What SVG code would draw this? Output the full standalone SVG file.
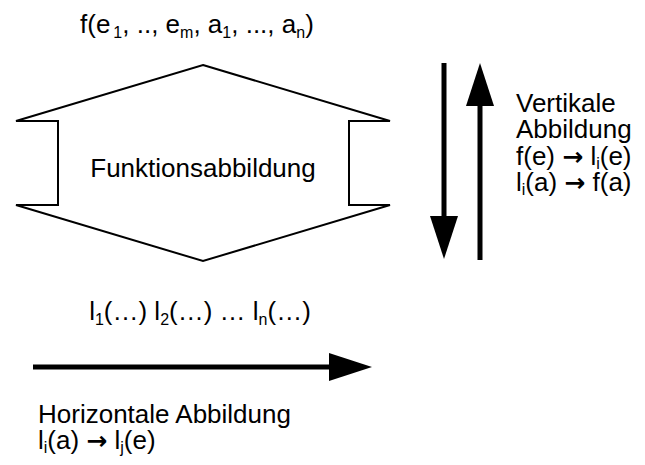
<svg xmlns="http://www.w3.org/2000/svg" width="645" height="465" viewBox="0 0 645 465">
<style>
text{font-family:"Liberation Sans",Arial,sans-serif;font-size:26px;fill:#000}
.sub{font-size:16px}
.ar{font-family:"DejaVu Sans",sans-serif;font-weight:bold;font-size:25px}
.shape{fill:#fff;stroke:#000;stroke-width:2;stroke-linejoin:miter}
.arr{stroke:#000;stroke-width:5;fill:none}
</style>
<defs>
<marker id="head" markerUnits="userSpaceOnUse" markerWidth="44" markerHeight="28" refX="0" refY="14" orient="auto" overflow="visible">
<path d="M0,0 L43,14 L0,28 z" fill="#000"/>
</marker>
</defs>
<rect width="645" height="465" fill="#fff"/>
<g id="top-label">
<text x="80" y="33">f(e<tspan class="sub" dy="5" dx="3">1</tspan><tspan dy="-5">, .., e</tspan><tspan class="sub" dy="5">m</tspan><tspan dy="-5">, a</tspan><tspan class="sub" dy="5">1</tspan><tspan dy="-5">, ..., a</tspan><tspan class="sub" dy="5">n</tspan><tspan dy="-5">)</tspan></text>
</g>
<g id="funktionsabbildung">
<polygon class="shape" points="203,65 390,121 349,121 349,205 390,205 203,261 16,205 58,205 58,121 16,121"/>
<text x="203" y="177" text-anchor="middle">Funktionsabbildung</text>
</g>
<g id="bottom-label">
<text x="200" y="320" text-anchor="middle">l<tspan class="sub" dy="5">1</tspan><tspan dy="-5">(…) l</tspan><tspan class="sub" dy="5">2</tspan><tspan dy="-5">(…) … l</tspan><tspan class="sub" dy="5">n</tspan><tspan dy="-5">(…)</tspan></text>
</g>
<g id="vertical-label">
<text x="516" y="112">Vertikale</text>
<text x="516" y="138">Abbildung</text>
<text x="516" y="165">f(e) <tspan class="ar">→</tspan> l<tspan class="sub" dy="4">i</tspan><tspan dy="-4">(e)</tspan></text>
<text x="516" y="191">l<tspan class="sub" dy="4">i</tspan><tspan dy="-4">(a) </tspan><tspan class="ar">→</tspan> f(a)</text>
</g>
<g id="horizontal-label">
<text x="38" y="423">Horizontale Abbildung</text>
<text x="38" y="449">l<tspan class="sub" dy="4">i</tspan><tspan dy="-4">(a) </tspan><tspan class="ar">→</tspan> l<tspan class="sub" dy="4">j</tspan><tspan dy="-4">(e)</tspan></text>
</g>
<g id="connectors">
<line class="arr" x1="444" y1="63" x2="444" y2="216" marker-end="url(#head)"/>
<line class="arr" x1="480" y1="260" x2="480" y2="106" marker-end="url(#head)"/>
<line class="arr" x1="33" y1="367" x2="329" y2="367" marker-end="url(#head)"/>
</g>
</svg>
